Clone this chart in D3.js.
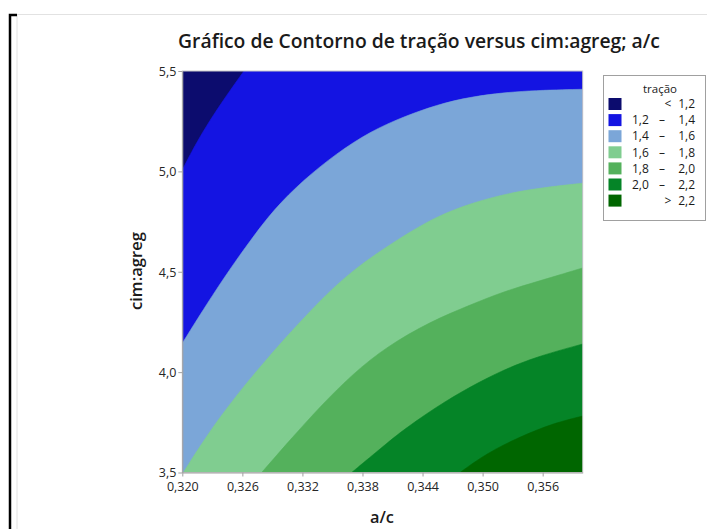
<!DOCTYPE html>
<html><head><meta charset="utf-8">
<script src="https://cdn.jsdelivr.net/npm/d3@7"></script>
<style>body{margin:0;background:#fff}svg{display:block}text{font-family:"Open Sans",sans-serif}</style>
</head><body>
<script>
// ---- data ----
const levels = [1.2, 1.4, 1.6, 1.8, 2.0, 2.2];
const bandColors = ["#0c0c6e", "#1414e2", "#7ba6d8", "#80cd90", "#54b15c", "#058427", "#006600"];
const xTicks = [0.320, 0.326, 0.332, 0.338, 0.344, 0.350, 0.356];
const yTicks = [3.5, 4.0, 4.5, 5.0, 5.5];
// contour boundaries as [a/c, cim:agreg]
const contour12 = [[0.3200,5.007],[0.32127,5.131],[0.32277,5.256],[0.32444,5.380],[0.32616,5.5]];
const contour14 = [[0.3200,4.144],[0.32244,4.339],[0.32476,4.514],[0.32676,4.653],[0.32909,4.808],[0.33209,4.957],[0.33542,5.090],[0.33875,5.198],[0.34208,5.272],[0.34541,5.331],[0.34874,5.372],[0.35373,5.402],[0.3600,5.409]];
const contour16 = [[0.3201,3.5],[0.32344,3.762],[0.32809,4.050],[0.33375,4.359],[0.33708,4.510],[0.34042,4.625],[0.34308,4.708],[0.34541,4.774],[0.34874,4.841],[0.35373,4.907],[0.3600,4.941]];
const contour18 = [[0.32793,3.5],[0.33076,3.662],[0.33375,3.828],[0.33708,3.994],[0.34042,4.127],[0.34475,4.251],[0.34874,4.334],[0.35207,4.401],[0.3554,4.450],[0.3600,4.519]];
const contour20 = [[0.33692,3.5],[0.34042,3.645],[0.34208,3.712],[0.34541,3.828],[0.34874,3.927],[0.35207,4.011],[0.3554,4.077],[0.3600,4.140]];
const contour22 = [[0.34775,3.5],[0.35041,3.596],[0.35373,3.678],[0.35706,3.745],[0.3600,3.781]];
const contours = [contour12, contour14, contour16, contour18, contour20, contour22];
const legendTitle = "tração";

const W = 707, H = 529;
const svg = d3.select("body").append("svg").attr("width", W).attr("height", H);

// figure frame
svg.append("path").attr("d","M17,529V14.5H707").attr("fill","none").attr("stroke","#e2e2e2").attr("stroke-width",1);
svg.append("path").attr("d","M10,529V15H17").attr("fill","none").attr("stroke","#000").attr("stroke-width",2.5);

const plot = {x0:182.3, x1:582.7, y0:71, y1:472.5};
const x = d3.scaleLinear().domain([0.320, 0.360]).range([plot.x0, plot.x1]);
const y = d3.scaleLinear().domain([3.5, 5.5]).range([plot.y1, plot.y0]);
const [xmin, xmax] = x.domain(), [ymin, ymax] = y.domain();

svg.append("clipPath").attr("id","clip").append("rect")
  .attr("x",plot.x0).attr("y",plot.y0).attr("width",plot.x1-plot.x0).attr("height",plot.y1-plot.y0);
const g = svg.append("g").attr("clip-path","url(#clip)");

g.append("rect").attr("x",plot.x0).attr("y",plot.y0).attr("width",plot.x1-plot.x0).attr("height",plot.y1-plot.y0)
  .attr("fill", bandColors[0]);

const line = d3.line().x(d=>x(d[0])).y(d=>y(d[1])).curve(d3.curveBasis);
const eps = 1e-9;
contours.forEach((c, i) => {
  const corners = [];
  const last = c[c.length-1], first = c[0];
  if (Math.abs(last[1]-ymax) < eps && last[0] < xmax - eps) corners.push([xmax, ymax]);
  corners.push([xmax, ymin]);
  if (first[0] < xmin + 0.00005 && first[1] > ymin + eps) corners.push([xmin, ymin]);
  let d = line(c);
  const ext = corners.map(p => [x(p[0]) + (p[0]===xmax?3:-3), y(p[1]) + (p[1]===ymin?3:-3)]);
  d += ext.map(p => "L" + p[0] + "," + p[1]).join("") + "Z";
  g.append("path").attr("d", d).attr("fill", bandColors[i+1]).attr("stroke", bandColors[i+1]).attr("stroke-width", 0.6);
});

const fmt = d3.formatLocale({decimal:",", thousands:".", grouping:[3], currency:["",""]});
const fx = fmt.format(".3f"), fy = fmt.format(".1f");

// plot border
svg.append("rect").attr("x",plot.x0).attr("y",plot.y0).attr("width",plot.x1-plot.x0).attr("height",plot.y1-plot.y0)
  .attr("fill","none").attr("stroke","#c8c8c8").attr("stroke-width",1);

const xa = svg.append("g").attr("transform",`translate(0,${plot.y1})`)
  .call(d3.axisBottom(x).tickValues(xTicks).tickFormat(fx).tickSize(4).tickSizeOuter(0));
const ya = svg.append("g").attr("transform",`translate(${plot.x0},0)`)
  .call(d3.axisLeft(y).tickValues(yTicks).tickFormat(fy).tickSize(4).tickSizeOuter(0));
[xa, ya].forEach(a => {
  a.select(".domain").attr("stroke","#a0a0a0");
  a.selectAll(".tick line").attr("stroke","#a0a0a0");
  a.selectAll(".tick text").attr("fill","#262626").style("font-size","12.5px").style("font-family","'Open Sans',sans-serif");
});
xa.selectAll(".tick text").attr("dy","0.95em");
ya.selectAll(".tick text").attr("x",-6).attr("dy","0.34em");

function fit(sel, base, target) {
  const len = sel.node().getComputedTextLength();
  sel.style("font-size", (base * target / len).toFixed(2) + "px");
}
// titles
const title = svg.append("text").attr("x",419).attr("y",48).attr("text-anchor","middle")
  .style("font-size","16px").style("font-weight",600).attr("fill","#1a1a1a")
  .text("Gráfico de Contorno de tração versus cim:agreg; a/c");
fit(title, 16, 482);
const xt = svg.append("text").attr("x",382).attr("y",523).attr("text-anchor","middle")
  .style("font-size","14px").style("font-weight",600).attr("fill","#1a1a1a").text("a/c");
fit(xt, 14, 24);
const yt = svg.append("text").attr("transform","translate(142,271) rotate(-90)").attr("text-anchor","middle")
  .style("font-size","14px").style("font-weight",600).attr("fill","#1a1a1a").text("cim:agreg");
fit(yt, 14, 78);

// legend
const lg = svg.append("g");
lg.append("rect").attr("x",603.5).attr("y",75.5).attr("width",102).attr("height",145)
  .attr("fill","#fff").attr("stroke","#a0a0a0");
lg.append("text").attr("x",660).attr("y",92.5).attr("text-anchor","middle")
  .style("font-size","11.5px").attr("fill","#1a1a1a").text(legendTitle);
const rows = bandColors.map((c, i) => ({c, lo: i===0?null:levels[i-1], hi: i<levels.length?levels[i]:null}));
rows.forEach((r, i) => {
  const cy = 104 + i*16.1;
  lg.append("rect").attr("x",608.5).attr("y",cy-6).attr("width",13).attr("height",12).attr("fill",r.c);
  const t = (xx, anchor, s) => lg.append("text").attr("x",xx).attr("y",cy).attr("dy","0.35em")
    .attr("text-anchor",anchor).style("font-size","12px").attr("fill","#1a1a1a").text(s);
  if (r.lo === null) { t(668,"middle","<"); t(695,"end",fy(r.hi)); }
  else if (r.hi === null) { t(668,"middle",">"); t(695,"end",fy(r.lo)); }
  else { t(632,"start",fy(r.lo)); t(662,"middle","–"); t(695,"end",fy(r.hi)); }
});
</script>
</body></html>
